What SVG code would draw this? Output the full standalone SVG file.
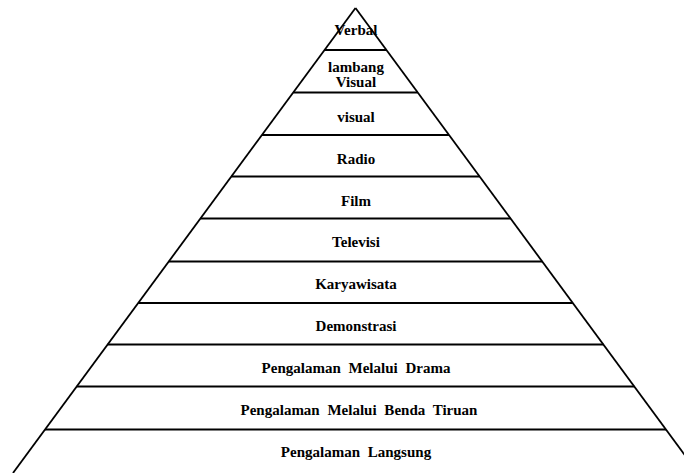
<svg xmlns="http://www.w3.org/2000/svg" width="684" height="473" viewBox="0 0 684 473">
<style>
.ln{stroke:#000;stroke-width:1.8;fill:none;stroke-linecap:butt}
.t{font-family:'Liberation Serif','DejaVu Serif',serif;font-weight:700;font-size:15px;fill:#000;text-anchor:middle}
.w{word-spacing:4px}
</style>
<rect width="684" height="473" fill="#fff"/>
<g id="connectors">
<line class="ln" x1="355.5" y1="8" x2="13" y2="473"/>
<line class="ln" x1="355.5" y1="8" x2="698" y2="473"/>
<line class="ln" x1="324.6" y1="50" x2="386.4" y2="50"/>
<line class="ln" x1="293.3" y1="92.5" x2="417.7" y2="92.5"/>
<line class="ln" x1="262" y1="135" x2="449" y2="135"/>
<line class="ln" x1="231.4" y1="176.5" x2="479.6" y2="176.5"/>
<line class="ln" x1="200.4" y1="218.5" x2="510.6" y2="218.5"/>
<line class="ln" x1="168.8" y1="261.5" x2="542.2" y2="261.5"/>
<line class="ln" x1="138.2" y1="303" x2="572.8" y2="303"/>
<line class="ln" x1="107.6" y1="344.5" x2="603.4" y2="344.5"/>
<line class="ln" x1="76.7" y1="386.5" x2="634.3" y2="386.5"/>
<line class="ln" x1="45" y1="429.5" x2="666" y2="429.5"/>
</g>
<g id="verbal"><text class="t" x="356" y="35">Verbal</text></g>
<g id="lambang-visual"><text class="t" x="356" y="72">lambang</text><text class="t" x="356" y="87">Visual</text></g>
<g id="visual"><text class="t" x="356" y="122">visual</text></g>
<g id="radio"><text class="t" x="356" y="164">Radio</text></g>
<g id="film"><text class="t" x="356" y="206">Film</text></g>
<g id="televisi"><text class="t" x="356" y="247">Televisi</text></g>
<g id="karyawisata"><text class="t" x="356" y="289">Karyawisata</text></g>
<g id="demonstrasi"><text class="t" x="356" y="331">Demonstrasi</text></g>
<g id="drama"><text class="t w" x="356" y="373">Pengalaman Melalui Drama</text></g>
<g id="benda-tiruan"><text class="t w" x="359" y="415">Pengalaman Melalui Benda Tiruan</text></g>
<g id="langsung"><text class="t w" x="356" y="457">Pengalaman Langsung</text></g>
</svg>
